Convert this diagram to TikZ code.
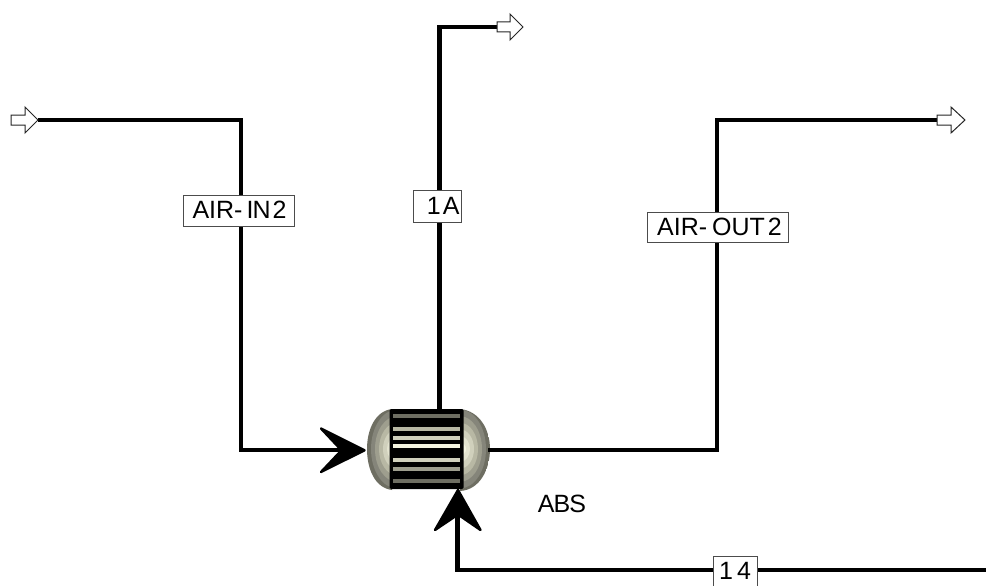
\documentclass[tikz,border=0pt]{standalone}
\usepackage{fontspec}
\setmainfont{Liberation Sans}
\definecolor{bandA}{HTML}{6E6E62}
\definecolor{bandB}{HTML}{85857A}
\definecolor{bandC}{HTML}{9E9E8E}
\definecolor{bandD}{HTML}{B8B8A4}
\definecolor{bandE}{HTML}{D0D0BC}
\definecolor{bandF}{HTML}{E4E4D0}
\definecolor{bandG}{HTML}{F4F4E0}
\tikzset{
  stream/.style={line width=4.4pt,line cap=butt,line join=miter},
  tag/.style={draw=black!70,line width=0.9pt,fill=white,inner sep=0pt,font=\fontsize{25pt}{28pt}\selectfont,anchor=center},
  port/.style={draw=black!85,line width=1pt,fill=white,line join=miter},
  bigtip/.style={fill=black,draw=black,line width=2.4pt,line join=round},
  body/.style={fill=black,draw=none,inner sep=0pt,minimum width=74pt,minimum height=80pt,rounded corners=1.5pt}
}
\newcommand{\capbands}[1]{%
  \foreach \k/\c in {0/bandA,1/bandB,2/bandC,3/bandD,4/bandE,5/bandF,6/bandG}{
    \fill[fill=\c] (#1,449) ellipse ({30-4*\k} and {46-6.6*\k});
  }
}
\newcommand{\lift}[2]{\raisebox{#1}{#2}}
\begin{document}
\begin{tikzpicture}[x=1pt,y=-1pt]
\useasboundingbox (0,0) rectangle (986,586);
\fill[white] (0,0) rectangle (986,586);
% vessel caps
\begin{scope}
  \clip (392,409) .. controls (375,411) and (367,430) .. (367,449) .. controls (367,469) and (375,488) .. (392,490) -- cycle;
  \capbands{397}
\end{scope}
\begin{scope}
  \clip (460,409) .. controls (480,411) and (490,430) .. (490,449) .. controls (490,469) and (480,490) .. (460,491) -- cycle;
  \capbands{460}
\end{scope}
\node[body] (abs) at (426.5,449) {};
\foreach \ya/\yb/\c in {413.5/417.5/bandA,427/431/bandD,435.5/439.5/bandE,444/448/bandG,458/462/bandE,467/470.5/bandC,479/483/bandA}{
  \fill[fill=\c] (393,\ya) rectangle (459.5,\yb);
}
% named ports
\coordinate (inleft) at (38,120);
\coordinate (incorner1) at (241,120);
\coordinate (incorner2) at (241,450);
\coordinate (invessel) at (345,450);
\coordinate (topport) at (439.5,409);
\coordinate (topcorner) at (439.5,27);
\coordinate (topend) at (497,27);
\coordinate (outport) at (488,450);
\coordinate (outcorner1) at (717,450);
\coordinate (outcorner2) at (717,120);
\coordinate (outend) at (937,120);
\coordinate (rightedge) at (986,570);
\coordinate (botcorner) at (457.5,570);
\coordinate (botport) at (457.5,510);
% streams
\draw[stream] (inleft) -- (incorner1) -- (incorner2) -- (invessel);
\draw[stream] (topport) -- (topcorner) -- (topend);
\draw[stream] (outport) -- (outcorner1) -- (outcorner2) -- (outend);
\draw[stream] (rightedge) -- (botcorner) -- (botport);
% feed arrowheads
\filldraw[bigtip] (364.5,450.3) -- (321,428.5) -- (341.5,450.3) -- (321,472) -- cycle;
\filldraw[bigtip] (458,490) -- (435,530) -- (458,514.5) -- (480.5,530) -- cycle;
% port arrows
\draw[port] (11,115) -- (25,115) -- (25,107) -- (38,120) -- (25,133) -- (25,125) -- (11,125) -- cycle;
\draw[port] (497,22) -- (510,22) -- (510,14) -- (523,27) -- (510,40) -- (510,32) -- (497,32) -- cycle;
\draw[port] (937,115) -- (951,115) -- (951,107) -- (965,120) -- (951,133) -- (951,125) -- (937,125) -- cycle;
% labels
\node[tag,minimum width=111pt,minimum height=31pt] (lairin) at (238.5,210.5) {\lift{2pt}{\kern2pt AIR-\kern4pt I\kern-1pt N\kern2pt 2}};
\node[tag,minimum width=48.5pt,minimum height=32pt] (l1a) at (437.2,206) {\lift{1pt}{\kern12pt 1\kern2pt A}};
\node[tag,minimum width=141pt,minimum height=30pt] (lairout) at (717.5,227) {\kern4pt AIR-\kern5pt OUT\kern3pt 2};
\node[tag,minimum width=44pt,minimum height=31pt] (l14) at (735,571.5) {\lift{1.5pt}{1\kern4pt 4}};
\node[inner sep=0pt,font=\fontsize{25pt}{28pt}\selectfont] (labs) at (562,504) {A\kern-1pt B\kern-1pt S};
\end{tikzpicture}
\end{document}
